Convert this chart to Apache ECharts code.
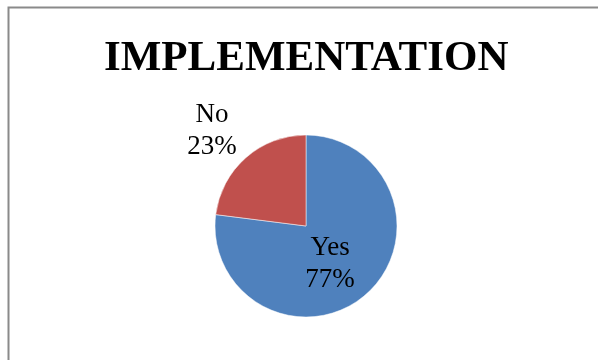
<!DOCTYPE html>
<html>
<head>
<meta charset="utf-8">
<script src="https://cdn.jsdelivr.net/npm/echarts@6/dist/echarts.min.js"></script>
<style>
html,body{margin:0;padding:0;background:#fff;}
#chart{width:598px;height:360px;}
</style>
</head>
<body>
<div id="chart"></div>
<script>
const titleText = 'IMPLEMENTATION';
const categories = ['Yes', 'No'];
const values = [77, 23];
const colors = ['#4F81BD', '#C0504D'];

const chart = echarts.init(document.getElementById('chart'), null, {renderer: 'canvas'});
chart.setOption({
  backgroundColor: '#ffffff',
  animation: false,
  graphic: [{
    type: 'polyline',
    shape: {points: [[8.5, 400], [8.5, 7.5], [598, 7.5]]},
    style: {fill: null, stroke: '#8a8a8a', lineWidth: 2},
    silent: true
  }],
  title: {
    text: titleText,
    left: 104,
    top: 37,
    padding: 0,
    textStyle: {fontFamily: 'Liberation Serif', fontWeight: 'bold', fontSize: 43, color: '#000'}
  },
  series: [{
    type: 'pie',
    center: [306, 226],
    radius: 91,
    startAngle: 90,
    clockwise: true,
    data: categories.map((c, i) => ({
      name: c,
      value: values[i],
      itemStyle: {color: colors[i]},
      label: i === 0 ? {position: 'inside'} : {position: 'outside'}
    })),
    itemStyle: {borderColor: '#fff', borderWidth: 0.5},
    label: {
      formatter: p => p.name + '\n' + Math.round(p.percent) + '%',
      fontFamily: 'Liberation Serif',
      fontSize: 27,
      lineHeight: 32,
      color: '#000',
      align: 'center'
    },
    labelLine: {show: false, length: 30, length2: 0},
    labelLayout: function (p) {
      if (p.dataIndex === 1) {
        return {align: 'center', dx: -9, dy: -4};
      }
      return {dx: -8, dy: 2};
    }
  }]
});
</script>
</body>
</html>
